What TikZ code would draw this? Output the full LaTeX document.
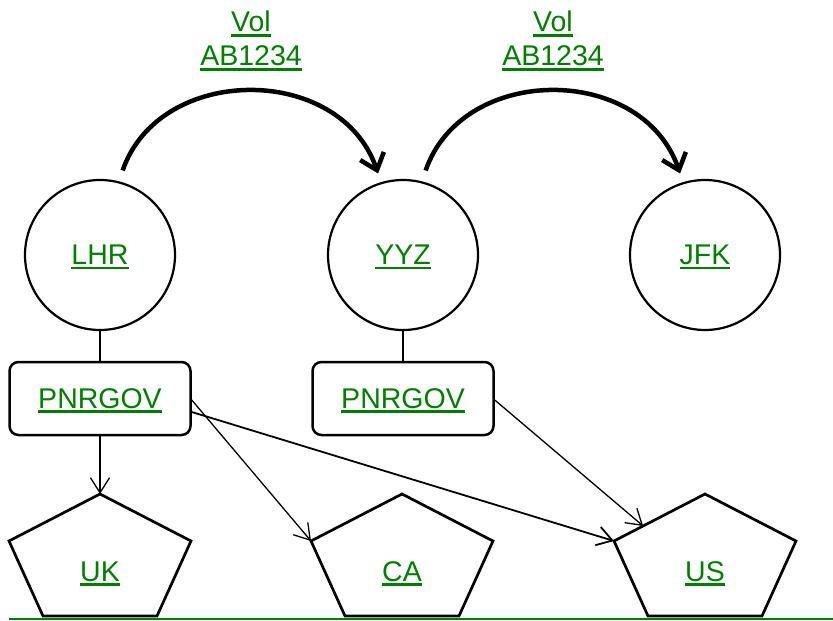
\documentclass[tikz,border=0pt]{standalone}
\usepackage{fontspec}
\setmainfont{Liberation Sans}
\usetikzlibrary{arrows.meta,calc}
\definecolor{lk}{RGB}{0,128,0}
\newsavebox\ulbox
\newcommand\ulin[1]{\sbox\ulbox{#1}\rlap{\rule[-4.8pt]{\wd\ulbox}{2.4pt}}\usebox\ulbox}
\begin{document}
\begin{tikzpicture}[x=1pt,y=-1pt,
 lbl/.style={text=lk, font=\fontsize{28.5}{34}\selectfont, inner sep=0pt, text height=19pt, text depth=0pt},
 airport/.style={lbl, circle, draw=black, line width=2.2pt, minimum size=150pt},
 msg/.style={lbl, rectangle, rounded corners=9pt, draw=black, line width=2.5pt, minimum width=181pt, minimum height=73pt},
 pent/.style={draw=black, line width=2.7pt, line join=miter},
 link/.style={draw=black, line width=1.3pt},
 send/.style={link, -{Straight Barb[length=15pt,width=19pt]}},
 flight/.style={draw=black, line width=4.5pt, -{Straight Barb[length=15pt,width=25pt]}},
 baseline/.style={draw=lk, line width=1.8pt},
]
\useasboundingbox (0,0) rectangle (833,621);

% airports
\node[airport] (lhr) at (100,255) {\ulin{LHR}};
\node[airport] (yyz) at (403,255) {\ulin{YYZ}};
\node[airport] (jfk) at (705,255) {\ulin{JFK}};

% messages
\node[msg] (p1) at (100,398.5) {\ulin{PNRGOV}};
\node[msg] (p2) at (403,398.5) {\ulin{PNRGOV}};

% countries
\foreach \n/\c/\t in {uk/100/UK,ca/402/CA,us/705/US}{
  \node[lbl, anchor=base] (\n) at (\c,581) {\ulin{\t}};
  \draw[pent] (\c,494) coordinate (\n-top) -- (\c+91,541) coordinate (\n-r)
    -- (\c+57,616) -- (\c-57,616) -- (\c-91,541) coordinate (\n-l) -- cycle;
}

% flight labels
\node[lbl, anchor=base] (vol1) at (251,31.7) {\ulin{Vol}};
\node[lbl, anchor=base] (ab1) at (251,65.7) {\ulin{AB1234}};
\node[lbl, anchor=base] (vol2) at (553,31.7) {\ulin{Vol}};
\node[lbl, anchor=base] (ab2) at (553,65.7) {\ulin{AB1234}};

% flights
\draw[flight] ($(lhr.center)!1.15!(lhr.75)$) .. controls +(37,-107) and +(-38,-110) .. ($(yyz.center)!1.12!(yyz.107)$);
\draw[flight] ($(yyz.center)!1.15!(yyz.75)$) .. controls +(37,-107) and +(-38,-110) .. ($(jfk.center)!1.12!(jfk.107)$);

% links
\draw[link] (lhr.south) -- (p1.north);
\draw[link] (yyz.south) -- (p2.north);
\draw[send] (p1.south) -- (uk-top);
\draw[send] ($(p1.east)+(0,1.5)$) -- (ca-l);
\draw[send, line width=1.8pt] ($(p1.east)+(0,13.5)$) -- (us-l);
\draw[send] ($(p2.east)+(0,1.5)$) -- ($(us-l)!0.32!(us-top)$);

% bottom line
\coordinate (gl) at (9,619);
\coordinate (gr) at (833,619);
\draw[baseline] (gl) -- (gr);
\end{tikzpicture}
\end{document}
